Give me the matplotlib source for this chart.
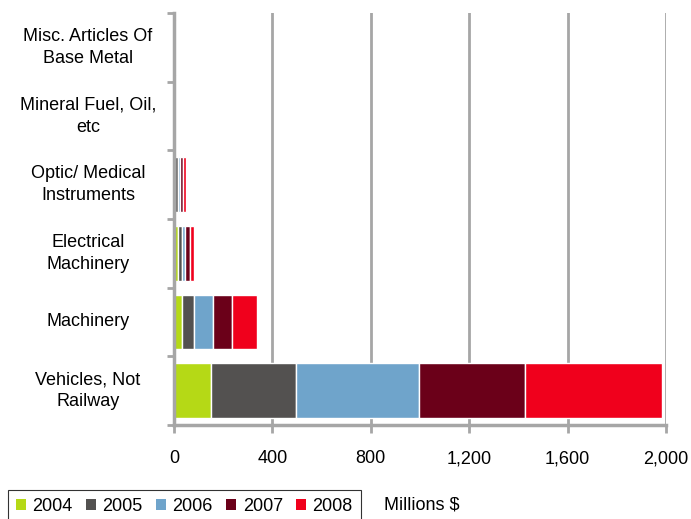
import numpy as np
import matplotlib
matplotlib.use('Agg')
import matplotlib.pyplot as plt
from matplotlib.patches import Patch

plt.rcParams['font.family'] = ['Liberation Sans', 'DejaVu Sans']

categories = ['Vehicles, Not\nRailway', 'Machinery', 'Electrical\nMachinery',
              'Optic/ Medical\nInstruments', 'Mineral Fuel, Oil,\netc',
              'Misc. Articles Of\nBase Metal']
years = ['2004', '2005', '2006', '2007', '2008']
v2004 = [150, 32, 18, 6, 0, 1]
v2005 = [346, 49, 16, 12, 0, 1]
v2006 = [500, 78, 11, 6, 0, 1]
v2007 = [431, 77, 19, 11, 0, 1]
v2008 = [557, 101, 19, 14, 0, 4]
colors = ['#b5d916', '#535150', '#6fa4cb', '#6b0019', '#f0001c']

series = [v2004, v2005, v2006, v2007, v2008]

fig = plt.figure(figsize=(6.91, 5.19), dpi=100)
ax = fig.add_axes([174/691, 1-425/519, 492/691, 412/519])

y = np.arange(len(categories))
left = np.zeros(len(categories))
for vals, c in zip(series, colors):
    ax.barh(y, vals, left=left, height=0.8, color=c, edgecolor='white', linewidth=1)
    left = left + np.array(vals)

ax.set_xlim(0, 2000)
ax.set_ylim(-0.5, len(categories)-0.5)
ax.set_xticks(np.arange(0, 2001, 400))
ax.set_xticklabels(['0', '400', '800', '1,200', '1,600', '2,000'], fontsize=13)
ax.xaxis.grid(True, color='#a6a6a6', linewidth=2)
ax.set_axisbelow(True)

ax.set_yticks(y)
ax.set_yticklabels(categories, fontsize=13, ha='center', va='center',
                   multialignment='center', linespacing=1.4)
ax.tick_params(axis='y', length=0, pad=62)
ax.set_yticks(np.arange(-0.5, len(categories), 1), minor=True)
ax.tick_params(axis='y', which='minor', length=5, width=2, color='#a6a6a6')
ax.tick_params(axis='x', length=6, width=2, color='#a6a6a6', pad=12)

for s in ['top', 'right']:
    ax.spines[s].set_visible(False)
for s in ['left', 'bottom']:
    ax.spines[s].set_color('#a6a6a6')
    ax.spines[s].set_linewidth(2.5)

handles = [Patch(facecolor=c, edgecolor='none') for c in colors]
leg = fig.legend(handles, years, loc='lower left', bbox_to_anchor=(8/691, -4/519),
                 ncol=5, fontsize=13, frameon=True, fancybox=False,
                 handlelength=0.55, handleheight=0.55, handletextpad=0.35,
                 columnspacing=0.75, borderpad=0.45, borderaxespad=0)
leg.get_frame().set_edgecolor('black')
leg.get_frame().set_linewidth(0.8)

fig.text(384/691, 1-505/519, 'Millions $', fontsize=13, va='center')

fig.savefig('out.png', dpi=100)
